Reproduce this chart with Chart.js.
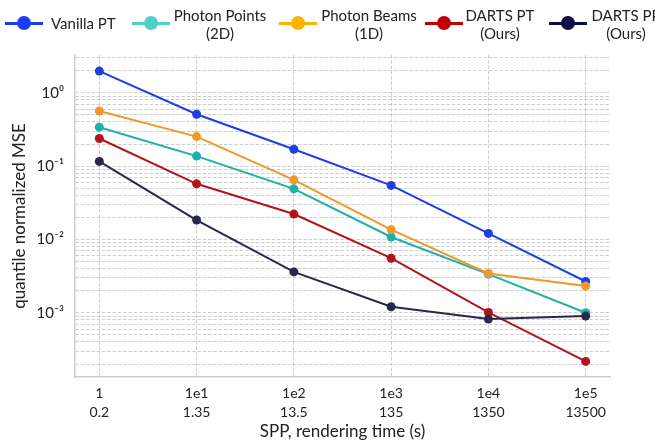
<!DOCTYPE html>
<html>
<head>
<meta charset="utf-8">
<script src="https://cdn.jsdelivr.net/npm/chart.js@4.4.1/dist/chart.umd.min.js"></script>
<style>
  html, body { margin: 0; padding: 0; background: #fff; overflow: hidden; }
  #wrap { position: relative; width: 655px; height: 445px; overflow: hidden; }
  #chart { position: absolute; left: 0; top: 0; }
  .leg { position: absolute; top: 0; height: 50px; font-family: Lato, sans-serif; font-size: 15px; color: #222; }
  .mark { position: absolute; top: 22px; width: 38px; height: 3px; }
  .mark i { position: absolute; left: 12px; top: -6px; width: 14px; height: 14px; border-radius: 50%; }
  .txt { position: absolute; white-space: nowrap; text-align: center; line-height: 18px; }
</style>
</head>
<body>
<div id="wrap">
  <canvas id="chart" width="655" height="445"></canvas>
  <div id="legend"></div>
</div>
<script>
// eje x: muestras por pixel y tiempo de render
const sppLabels = ["1", "1e1", "1e2", "1e3", "1e4", "1e5"];
const timeLabels = ["0.2", "1.35", "13.5", "135", "1350", "13500"];

// MSE normalizado por cuantil
const vanillaPT    = [1.98, 0.51, 0.170, 0.0546, 0.0121, 0.00267];
const photonPoints = [0.34, 0.137, 0.049, 0.0108, 0.00336, 0.00100];
const photonBeams  = [0.566, 0.253, 0.065, 0.0136, 0.00343, 0.00231];
const dartsPT      = [0.238, 0.0574, 0.0222, 0.00555, 0.00101, 0.000217];
const dartsPP      = [0.116, 0.0184, 0.00361, 0.00121, 0.00082, 0.00090];

const seriesNames = [["Vanilla PT"], ["Photon Points", "(2D)"], ["Photon Beams", "(1D)"], ["DARTS PT", "(Ours)"], ["DARTS PP", "(Ours)"]];
const lineColors = ["#1f3fe0", "#1fb0aa", "#f0982c", "#b3141c", "#28284f"];
const legendColors = ["#1f3cf5", "#4fd0c8", "#ffb300", "#c00000", "#0a0a45"];
const allSeries = [vanillaPT, photonPoints, photonBeams, dartsPT, dartsPP];
const drawOrder = [5, 4, 3, 2, 1];

// leyenda en HTML (texto de dos líneas)
const legendPos = [
  { mark: 5, text: 51, align: "left" },
  { mark: 132, text: 220 },
  { mark: 279, text: 369 },
  { mark: 425, text: 500 },
  { mark: 549, text: 626 }
];
const legendEl = document.getElementById("legend");
seriesNames.forEach((name, i) => {
  const item = document.createElement("div");
  item.className = "leg";
  const mark = document.createElement("div");
  mark.className = "mark";
  mark.style.left = legendPos[i].mark + "px";
  mark.style.background = legendColors[i];
  const dot = document.createElement("i");
  dot.style.background = legendColors[i];
  mark.appendChild(dot);
  const txt = document.createElement("div");
  txt.className = "txt";
  txt.innerHTML = name.join("<br>");
  if (legendPos[i].align === "left") {
    txt.style.left = legendPos[i].text + "px";
    txt.style.top = "14px";
  } else {
    txt.style.left = legendPos[i].text + "px";
    txt.style.transform = "translateX(-50%)";
    txt.style.top = "6px";
  }
  item.appendChild(mark);
  item.appendChild(txt);
  legendEl.appendChild(item);
});

const sup = { "-": "⁻", "0": "⁰", "1": "¹", "2": "²", "3": "³", "4": "⁴" };

const datasets = allSeries.map((vals, i) => ({
  label: seriesNames[i].join(" "),
  data: vals.map((v, j) => ({ x: j, y: v })),
  borderColor: lineColors[i],
  backgroundColor: lineColors[i],
  pointBackgroundColor: lineColors[i],
  pointBorderColor: lineColors[i],
  borderWidth: 2,
  pointRadius: 4.5,
  pointBorderWidth: 0,
  order: drawOrder[i],
  tension: 0
}));

const gridStyle = { color: "rgba(190,190,190,0.75)", lineWidth: 1, drawTicks: false };
const borderStyle = { display: true, color: "#cccccc", width: 1.5, dash: [3.5, 1.8] };

const ctx = document.getElementById("chart").getContext("2d");
new Chart(ctx, {
  type: "line",
  data: { datasets: datasets },
  options: {
    responsive: false,
    animation: false,
    layout: { padding: { top: 55, right: 45, left: 0, bottom: 0 } },
    plugins: { legend: { display: false }, tooltip: { enabled: false } },
    scales: {
      x: {
        type: "linear",
        min: -0.25,
        max: 5.25,
        grid: gridStyle,
        border: borderStyle,
        afterBuildTicks: (scale) => { scale.ticks = sppLabels.map((s, i) => ({ value: i })); },
        afterFit: (scale) => { scale.height = 68; },
        ticks: {
          autoSkip: false,
          maxRotation: 0,
          padding: 7,
          color: "#222",
          font: { family: "Lato", size: 14, lineHeight: 1.35 },
          callback: (v) => [sppLabels[v], timeLabels[v]]
        },
        title: {
          display: true,
          text: "SPP, rendering time (s)",
          color: "#222",
          font: { family: "Lato", size: 17 },
          padding: { top: 0, bottom: 3 }
        }
      },
      y: {
        type: "logarithmic",
        min: 1.33e-4,
        max: 3.28,
        grid: gridStyle,
        border: borderStyle,
        afterBuildTicks: (scale) => {
          const t = [];
          for (let e = -4; e <= 0; e++) {
            for (let m = 1; m <= 9; m++) {
              const v = m * Math.pow(10, e);
              if (v >= scale.min && v <= scale.max) t.push({ value: v, major: m === 1 });
            }
          }
          scale.ticks = t;
        },
        afterFit: (scale) => { scale.width = 75; },
        ticks: {
          autoSkip: false,
          padding: 11,
          color: "#222",
          font: { family: "Lato", size: 15 },
          callback: function (v) {
            const e = Math.round(Math.log10(v));
            if (Math.abs(v - Math.pow(10, e)) > 1e-12 * Math.pow(10, e) * 1e3) return "";
            return "10" + String(e).split("").map(c => sup[c]).join("");
          }
        },
        title: {
          display: true,
          text: "quantile normalized MSE",
          color: "#222",
          font: { family: "Lato", size: 17 },
          padding: { top: 9, bottom: 0 }
        }
      }
    }
  }
});
</script>
</body>
</html>
